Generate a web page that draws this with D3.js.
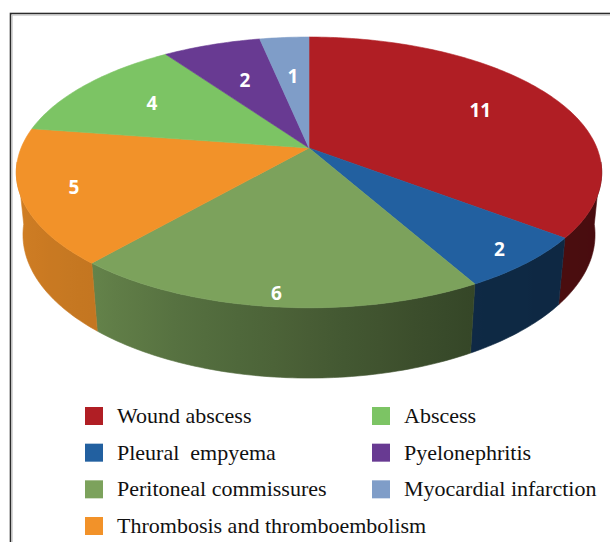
<!DOCTYPE html>
<html>
<head>
<meta charset="utf-8">
<script src="https://cdn.jsdelivr.net/npm/d3@7"></script>
<style>
    body { margin: 0; background: #fff; }
    svg { display: block; }
</style>
</head>
<body>
<svg width="610" height="542"></svg>
<script>
// данные диаграммы
const categories = ['Wound abscess', 'Pleural  empyema', 'Peritoneal commissures',
    'Thrombosis and thromboembolism', 'Abscess', 'Pyelonephritis', 'Myocardial infarction'];
const values = [11, 2, 6, 5, 4, 2, 1];
const colors = ['#B01E24', '#2260A0', '#7CA25C', '#F29229', '#7CC464', '#683A92', '#7F9DC8'];

const svg = d3.select('svg');
const defs = svg.append('defs');

// рамка
svg.append('rect')
    .attr('x', 10.5).attr('y', 13.5)
    .attr('width', 640).attr('height', 580)
    .attr('fill', 'none')
    .attr('stroke', '#2b2b2b')
    .attr('stroke-width', 1.6);
svg.append('rect')
    .attr('x', 12.3).attr('y', 15.3)
    .attr('width', 640).attr('height', 580)
    .attr('fill', 'none')
    .attr('stroke', '#c8c8c8')
    .attr('stroke-width', 0.8);

// параметры перспективной проекции
const cx = 309, cy = 148;
const camDist = 4.939, focal = 1422;
const tilt = 27.06 * Math.PI / 180;
const sinT = Math.sin(tilt), cosT = Math.cos(tilt);
const depthH = 0.245;

function project(r, phi, z) {
    const u = r * Math.sin(phi);
    const v = -r * Math.cos(phi);
    const depth = camDist - v * cosT - z * sinT;
    const yUp = -v * sinT + z * cosT;
    return [cx + focal * u / depth, cy - focal * yUp / depth];
}

const pie = d3.pie().sort(null).value(d => d)(values);

// затемнение боковой стенки в зависимости от угла
const shade = d3.scaleLinear()
    .domain([90, 150, 185, 220, 270])
    .range([2.5, 2.4, 1.4, 0.6, 0.3])
    .clamp(true);

const step = Math.PI / 180;
const rad = Math.PI / 180;
// видимая часть боковой стенки
const wallFrom = 100 * rad, wallTo = 260 * rad;

const walls = [];
pie.forEach((p, i) => {
    const a0 = Math.max(p.startAngle, wallFrom - 4 * rad);
    const a1 = Math.min(p.endAngle, wallTo + 4 * rad);
    if (a1 <= a0) return;
    walls.push({ a0, a1, i });
});

const line = d3.line();

walls.forEach(w => {
    const n = Math.max(2, Math.ceil((w.a1 - w.a0) / step));
    const angles = d3.range(n + 1).map(k => w.a0 + (w.a1 - w.a0) * k / n);
    const top = angles.map(a => project(1, a, 0));
    const bottom = angles.map(a => project(1, a, -depthH)).reverse();

    // градиент по горизонтали
    const ga = Math.max(w.a0, wallFrom), gb = Math.min(w.a1, wallTo);
    const x1 = project(1, ga, 0)[0], x2 = project(1, gb, 0)[0];
    const id = 'wall' + w.i;
    const grad = defs.append('linearGradient')
        .attr('id', id)
        .attr('gradientUnits', 'userSpaceOnUse')
        .attr('x1', x1).attr('y1', 0)
        .attr('x2', x2).attr('y2', 0);
    const m = 12;
    d3.range(m + 1).forEach(k => {
        const a = ga + (gb - ga) * k / m;
        const x = project(1, a, 0)[0];
        grad.append('stop')
            .attr('offset', Math.abs(x2 - x1) < 1e-6 ? 0 : (x - x1) / (x2 - x1))
            .attr('stop-color', d3.color(colors[w.i]).darker(shade(a / rad)).formatHex());
    });

    svg.append('path')
        .attr('d', line(top.concat(bottom)) + 'Z')
        .attr('fill', `url(#${id})`)
        .attr('stroke', `url(#${id})`)
        .attr('stroke-width', 0.6);
});

// верхняя грань
svg.append('g').selectAll('path')
    .data(pie)
    .enter()
    .append('path')
    .attr('d', p => {
        const pts = [project(0, 0, 0)];
        const n = Math.max(2, Math.ceil((p.endAngle - p.startAngle) / step));
        for (let k = 0; k <= n; k++) {
            const a = p.startAngle + (p.endAngle - p.startAngle) * k / n;
            pts.push(project(1, a, 0));
        }
        return line(pts) + 'Z';
    })
    .attr('fill', (p, i) => colors[i])
    .attr('stroke', (p, i) => colors[i])
    .attr('stroke-width', 0.6);

// подписи значений
svg.append('g').selectAll('text')
    .data(pie)
    .enter()
    .append('text')
    .attr('transform', p => {
        const mid = (p.startAngle + p.endAngle) / 2;
        const r = 0.77 - 0.16 * Math.cos(mid);
        const pt = project(r, mid, 0);
        return `translate(${pt[0]}, ${pt[1]})`;
    })
    .attr('text-anchor', 'middle')
    .attr('dy', '0.36em')
    .attr('fill', '#fff')
    .style('font-family', '"Open Sans", sans-serif')
    .style('font-weight', 700)
    .style('font-size', '19px')
    .text(p => p.data);

// легенда
const rowY = d3.scaleLinear().domain([0, 3]).range([416, 526]);
const colX = [85, 372];

const legend = svg.append('g').selectAll('g')
    .data(categories)
    .enter()
    .append('g')
    .attr('transform', (d, i) => `translate(${colX[i < 4 ? 0 : 1]}, ${rowY(i < 4 ? i : i - 4)})`);

legend.append('rect')
    .attr('x', 0).attr('y', -9)
    .attr('width', 18).attr('height', 18)
    .attr('fill', (d, i) => colors[i]);

legend.append('text')
    .attr('x', 32)
    .attr('y', 7)
    .attr('fill', '#111')
    .style('font-family', '"Liberation Serif", "Times New Roman", serif')
    .style('font-size', '22px')
    .style('white-space', 'pre')
    .text(d => d);
</script>
</body>
</html>
